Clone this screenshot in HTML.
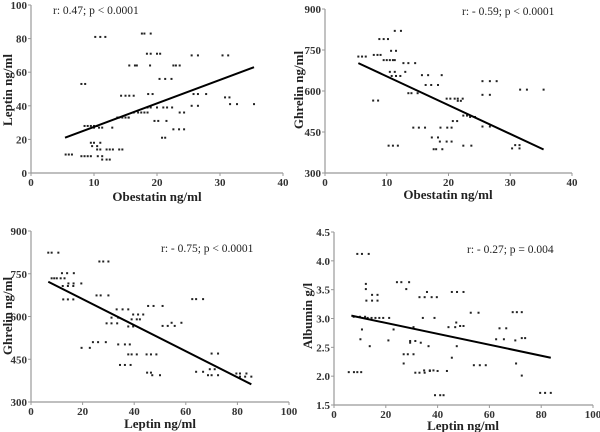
<!DOCTYPE html>
<html><head><meta charset="utf-8"><style>
html,body{margin:0;padding:0;background:#fff;}
svg{display:block;font-family:"Liberation Serif",serif;}
.tk{font-size:11px;font-weight:bold;fill:#333;}
.tt{font-size:13px;font-weight:bold;fill:#222;}
.an{font-size:11.5px;fill:#222;}
</style></head><body>
<svg id="c" width="600" height="432" viewBox="0 0 600 432"></svg>
<script>
// Panel 1: Obestatin vs Leptin
const p1x=[5.5,6,6.5,8,8.6,8,8.5,9,9.5,8.5,9,9.5,10,10.5,9.5,10,11,9.7,10.5,10.5,11,12,12.5,13,14,14.5,10.6,11.3,11.3,12,12.5,10.2,11,11.8,10,10.8,11.3,12.9,13.7,14,15,15.5,14.3,15,15.6,16.3,14.5,15.5,15.6,16.5,16.8,16.3,17,17.5,18,18.5,17.6,18,19,18.4,19,20,20.5,18.9,18.6,19.3,18.5,19,20,21,19.6,20.2,21.5,20.4,21.3,22.3,20.8,21.3,21.6,22.4,22.6,23,23.6,22.6,23.5,24.3,23.6,24.3,25.5,26.5,25.8,26.5,27.8,25.5,26.5,30.4,31.3,30.8,31.5,31.6,32.7,35.4];
const p1y=[11,11,11,53,53,10,10,10,10,28,28,28,28,28,18,18,18,16,16,14,14,14,14,14,14,14,10,10,8,8,8,81,81,81,27,27,27,27,33,33,33,33,46,46,46,46,33,33,64,64,64,36,36,36,36,36,83,83,83,71,71,71,71,64,47,47,39,39,39,39,31,31,31,56,56,56,21,21,39,39,64,64,64,26,26,26,36,36,70,70,47,47,47,40,40,70,70,45,45,41,41,41];
const p1line=[[5.4,21],[35.4,63]];
// Panel 2: Obestatin vs Ghrelin
const p2x=[5.4,6,6.6,7.8,8.6,7.9,8.5,9,8.8,9.5,10.2,9.5,10,10.5,11,11.3,10.5,11.3,10.8,11.5,10.7,11.5,11.3,12.3,12.2,12.7,13.5,14.6,13,10.3,11,11.8,13.5,14,14.3,15.2,16.2,15,15.7,16.7,16.3,17.2,18.3,17.3,18.3,17.6,18,18.6,18.7,19.8,20.5,18.9,19,19.7,20.5,19.7,20.3,21,21.5,22.3,21.5,22,20.7,21.4,22.4,23,22.4,23.7,23.5,24.3,25.5,26.7,27.8,25.5,26.7,25.5,26.7,30.3,31.5,30.8,31.5,31.6,32.7,35.4];
const p2y=[726,726,726,565,565,732,732,732,790,790,790,713,713,713,713,713,670,670,655,655,747,747,820,820,655,702,702,702,670,400,400,400,592,592,466,466,466,592,658,658,622,622,622,430,430,387,387,415,466,466,466,658,387,415,415,572,572,572,572,572,564,564,490,490,510,510,400,400,505,505,636,636,636,586,586,470,470,390,390,402,402,605,605,605];
const p2line=[[5.4,702],[35.4,386]];
// Panel 3: Leptin vs Ghrelin
const p3x=[6.7,8,10.6,8,9,10,11.5,13,12,14,16.6,12.3,14.3,16.4,14.5,16.5,19.5,12.5,14.3,16.4,19.6,22.8,24,26,29,25.4,27,30,26.5,28,30,29.3,31.2,31.2,33.8,33.2,35.5,37.7,33.4,33.8,36.4,34.5,36.4,37.7,39,38.3,38.6,37.7,39.6,39,41,39.6,41.5,43.5,42.2,41,44.8,46.5,48.6,45,46.5,47,50,45.4,47.5,51,51,53,55.7,54.5,58.3,62.5,64,66.7,64,66.7,68.6,70,70,72.5,69.3,71.2,72.5,79.6,81,83.5,81,83,85.4];
const p3y=[824,824,824,734,734,734,734,734,752,752,752,707,707,707,716,716,716,660,660,660,490,490,510,510,510,674,674,674,793,793,793,576,576,596,596,625,625,625,576,502,502,430,430,467,467,502,430,565,565,590,590,607,607,607,590,467,467,467,467,403,403,394,394,637,637,637,567,567,567,578,578,661,661,661,406,406,394,394,470,470,415,415,394,400,400,400,389,389,389];
const p3line=[[6.7,722],[85.4,362]];
// Panel 4: Leptin vs Albumin
const p4x=[5.7,7.7,9,9,10.8,13.4,10.2,10.5,10.8,7.6,10,12,12.3,12.3,12.5,14.7,14.7,16.8,16.8,13.8,13,14.5,16,17.5,19,21.3,21,23,24.3,26,29,27.9,26.9,28.5,30.7,26.9,29.4,31.4,29.4,33.5,30.7,31.4,33,35,33,35,37.7,39.7,35.9,34.3,38.8,36.5,34.8,37,38.4,37,40,43.6,39,41,42.3,44.2,46.8,45.5,47.5,50,45.5,47.2,47.4,48.7,50,52.8,55.8,54,56.3,58.6,62.6,65.6,63.9,66.5,69,70.6,70,70.3,72.5,72.5,72.5,73.8,79.6,81.5,83.7];
const p4y=[2.07,2.07,2.07,4.12,4.12,4.12,2.64,2.07,2.81,3.03,3.03,3.03,3.6,3.51,3.31,3.31,3.41,3.41,3.31,2.52,3.01,3.01,3.01,3.01,3.01,3.01,2.62,2.81,3.63,3.63,3.63,3.51,2.38,2.38,2.38,2.22,2.61,2.61,2.58,2.58,2.85,2.06,2.06,2.06,3.37,3.37,3.37,3.37,3.46,3.01,3.01,2.52,2.1,2.1,2.1,2.09,2.09,2.09,1.67,1.67,1.67,2.85,2.85,3.46,3.46,3.46,2.32,2.93,2.52,2.87,2.87,3.1,3.1,2.19,2.19,2.19,2.64,2.64,2.83,2.83,3.11,3.11,2.62,2.22,3.11,2.01,2.66,2.66,1.71,1.71,1.71];
const p4line=[[6.7,3.05],[83.7,2.32]];
const p1xt=[0,10,20,30,40], p1yt=[0,20,40,60,80,100];
const p2xt=[0,10,20,30,40], p2yt=[300,450,600,750,900];
const p3xt=[0,20,40,60,80,100], p3yt=[300,450,600,750,900];
const p4xt=[0,20,40,60,80,100], p4yt=["1.5","2.0","2.5","3.0","3.5","4.0","4.5"];

const NS="http://www.w3.org/2000/svg", svg=document.getElementById('c');
function mk(tag,at,parent,txt){const e=document.createElementNS(NS,tag);for(const k in at)e.setAttribute(k,at[k]);if(txt!==undefined)e.textContent=txt;(parent||svg).appendChild(e);return e;}
function panel(cfg){
  const g=mk('g',{});
  
  
  const sx=v=>cfg.x0+(v-cfg.xmin)/(cfg.xmax-cfg.xmin)*(cfg.x1-cfg.x0);
  const sy=v=>cfg.y0-(v-cfg.ymin)/(cfg.ymax-cfg.ymin)*(cfg.y0-cfg.y1);
  const ax=mk('path',{d:`M${cfg.x0},${cfg.y1}V${cfg.y0}H${cfg.x1}`,stroke:'#999',fill:'none','stroke-width':1.2},g);
  
  
  cfg.xt.forEach(t=>{const v=+t;const x=sx(v);
    mk('line',{x1:x,x2:x,y1:cfg.y0,y2:cfg.y0+3,stroke:'#999'},g);
    const l=mk('text',{x:x,y:cfg.y0+13,class:'tk','text-anchor':'middle'},g,String(t));
    
    });
  cfg.yt.forEach(t=>{const v=+t;const y=sy(v);
    mk('line',{x1:cfg.x0-3,x2:cfg.x0,y1:y,y2:y,stroke:'#999'},g);
    const l=mk('text',{x:cfg.x0-4,y:y+4,class:'tk','text-anchor':'end'},g,String(t));
    
    });
  cfg.xs.forEach((v,i)=>{const r=mk('rect',{x:sx(v)-1,y:sy(cfg.ys[i])-1,width:2,height:2,fill:'#222'},g);
    
    });
  const L=cfg.line;
  const ln=mk('line',{x1:sx(L[0][0]),y1:sy(L[0][1]),x2:sx(L[1][0]),y2:sy(L[1][1]),stroke:'#000','stroke-width':2},g);
  
  
  const xt=mk('text',{x:cfg.xtx,y:cfg.xty,class:'tt','text-anchor':'middle'},g,cfg.xtitle);
  
  
  const yt=mk('text',{x:0,y:0,class:'tt','text-anchor':'middle',transform:`translate(${cfg.ytx},${cfg.yty}) rotate(-90)`},g,cfg.ytitle);
  
  
  const an=mk('text',{x:cfg.anx,y:cfg.any,class:'an'},g,cfg.ann);
  
  
}
panel({name:'panel-leptin-vs-obestatin',x0:31,x1:283,y0:173,y1:5,xmin:0,xmax:40,ymin:0,ymax:100,xt:p1xt,yt:p1yt,xs:p1x,ys:p1y,line:p1line,
  xtitle:'Obestatin ng/ml',xtx:157,xty:201,ytitle:'Leptin ng/ml',ytx:12,yty:90,ann:'r: 0.47; p < 0.0001',anx:53,any:14});
panel({name:'panel-ghrelin-vs-obestatin',x0:325,x1:572,y0:173,y1:9,xmin:0,xmax:40,ymin:300,ymax:900,xt:p2xt,yt:p2yt,xs:p2x,ys:p2y,line:p2line,
  xtitle:'Obestatin ng/ml',xtx:448,xty:199,ytitle:'Ghrelin ng/ml',ytx:303,yty:90,ann:'r: - 0.59; p < 0.0001',anx:462,any:15});
panel({name:'panel-ghrelin-vs-leptin',x0:31,x1:289,y0:402,y1:231,xmin:0,xmax:100,ymin:300,ymax:900,xt:p3xt,yt:p3yt,xs:p3x,ys:p3y,line:p3line,
  xtitle:'Leptin ng/ml',xtx:160,xty:428,ytitle:'Ghrelin ng/ml',ytx:12,yty:316,ann:'r: - 0.75; p < 0.0001',anx:161,any:252});
panel({name:'panel-albumin-vs-leptin',x0:334,x1:593,y0:405,y1:232,xmin:0,xmax:100,ymin:1.5,ymax:4.5,xt:p4xt,yt:p4yt,xs:p4x,ys:p4y,line:p4line,
  xtitle:'Leptin ng/ml',xtx:463,xty:430,ytitle:'Albumin g/l',ytx:312,yty:316,ann:'r: - 0.27; p = 0.004',anx:467,any:253});
</script>
</body></html>
